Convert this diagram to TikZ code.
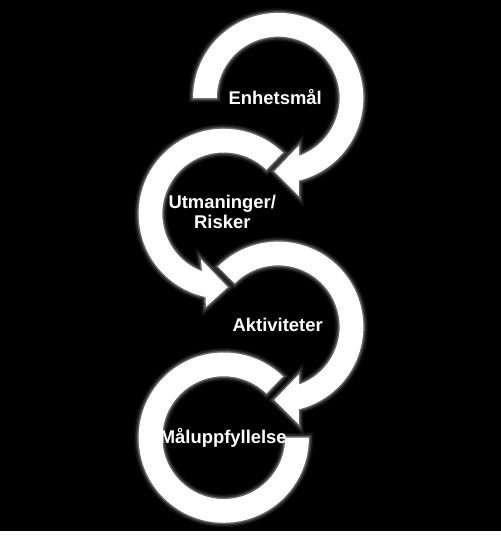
\documentclass[tikz,border=0pt]{standalone}
\usepackage{fontspec}
\setmainfont{Liberation Sans}
\tikzset{
  ring/.style={fill=white, line join=round,
    preaction={draw=white, line width=9pt, opacity=.07},
    preaction={draw=white, line width=6pt, opacity=.12},
    preaction={draw=white, line width=3pt, opacity=.25}},
  lbl/.style={text=white, inner sep=0pt, align=center,
    font=\bfseries\fontsize{18.6}{19.5}\selectfont}
}
\begin{document}
\begin{tikzpicture}[x=1pt,y=1pt]
    \fill[black] (0,0) rectangle (506,-536);
    \coordinate (c1) at (281,-99);
    \coordinate (c2) at (226,-216);
    \coordinate (c3) at (281,-330);
    \coordinate (c4) at (226,-442);
    % circular arrows
    \begin{scope}[shift={(c1)}]
      \path[ring] (180:86pt) arc[start angle=180, end angle=-76, radius=86pt]
        -- (21,-99) -- (-4,-74) -- (21,-48) -- (-70:62pt)
        arc[start angle=-70, end angle=180, radius=62pt] -- cycle;
    \end{scope}
    \begin{scope}[shift={(c2)}]
      \path[ring] (46:86pt) arc[start angle=46, end angle=257.6, radius=86pt]
        -- (-18,-94) -- (4,-74) -- (-23,-46) -- (249.2:62pt)
        arc[start angle=249.2, end angle=46, radius=62pt] -- cycle;
    \end{scope}
    \begin{scope}[shift={(c3)}]
      \path[ring] (135:86pt) arc[start angle=135, end angle=-76, radius=86pt]
        -- (21,-99) -- (-4,-74) -- (21,-48) -- (-70:62pt)
        arc[start angle=-70, end angle=135, radius=62pt] -- cycle;
    \end{scope}
    \begin{scope}[shift={(c4)}]
      \path[ring] (46:86pt) arc[start angle=46, end angle=360, radius=86pt]
        -- (0:62pt) arc[start angle=360, end angle=46, radius=62pt] -- cycle;
    \end{scope}
    % labels
    \node[lbl, anchor=base] (goal) at (278,-105.7) {Enhetsmål};
    \node[lbl] (risk) at (224.5,-214) {Utmaninger/\\Risker};
    \node[lbl, anchor=base] (acts) at (280.5,-335) {Aktiviteter};
    \node[lbl, anchor=base] (done) at (225.5,-447.7) {Måluppfyllelse};
\end{tikzpicture}
\end{document}
